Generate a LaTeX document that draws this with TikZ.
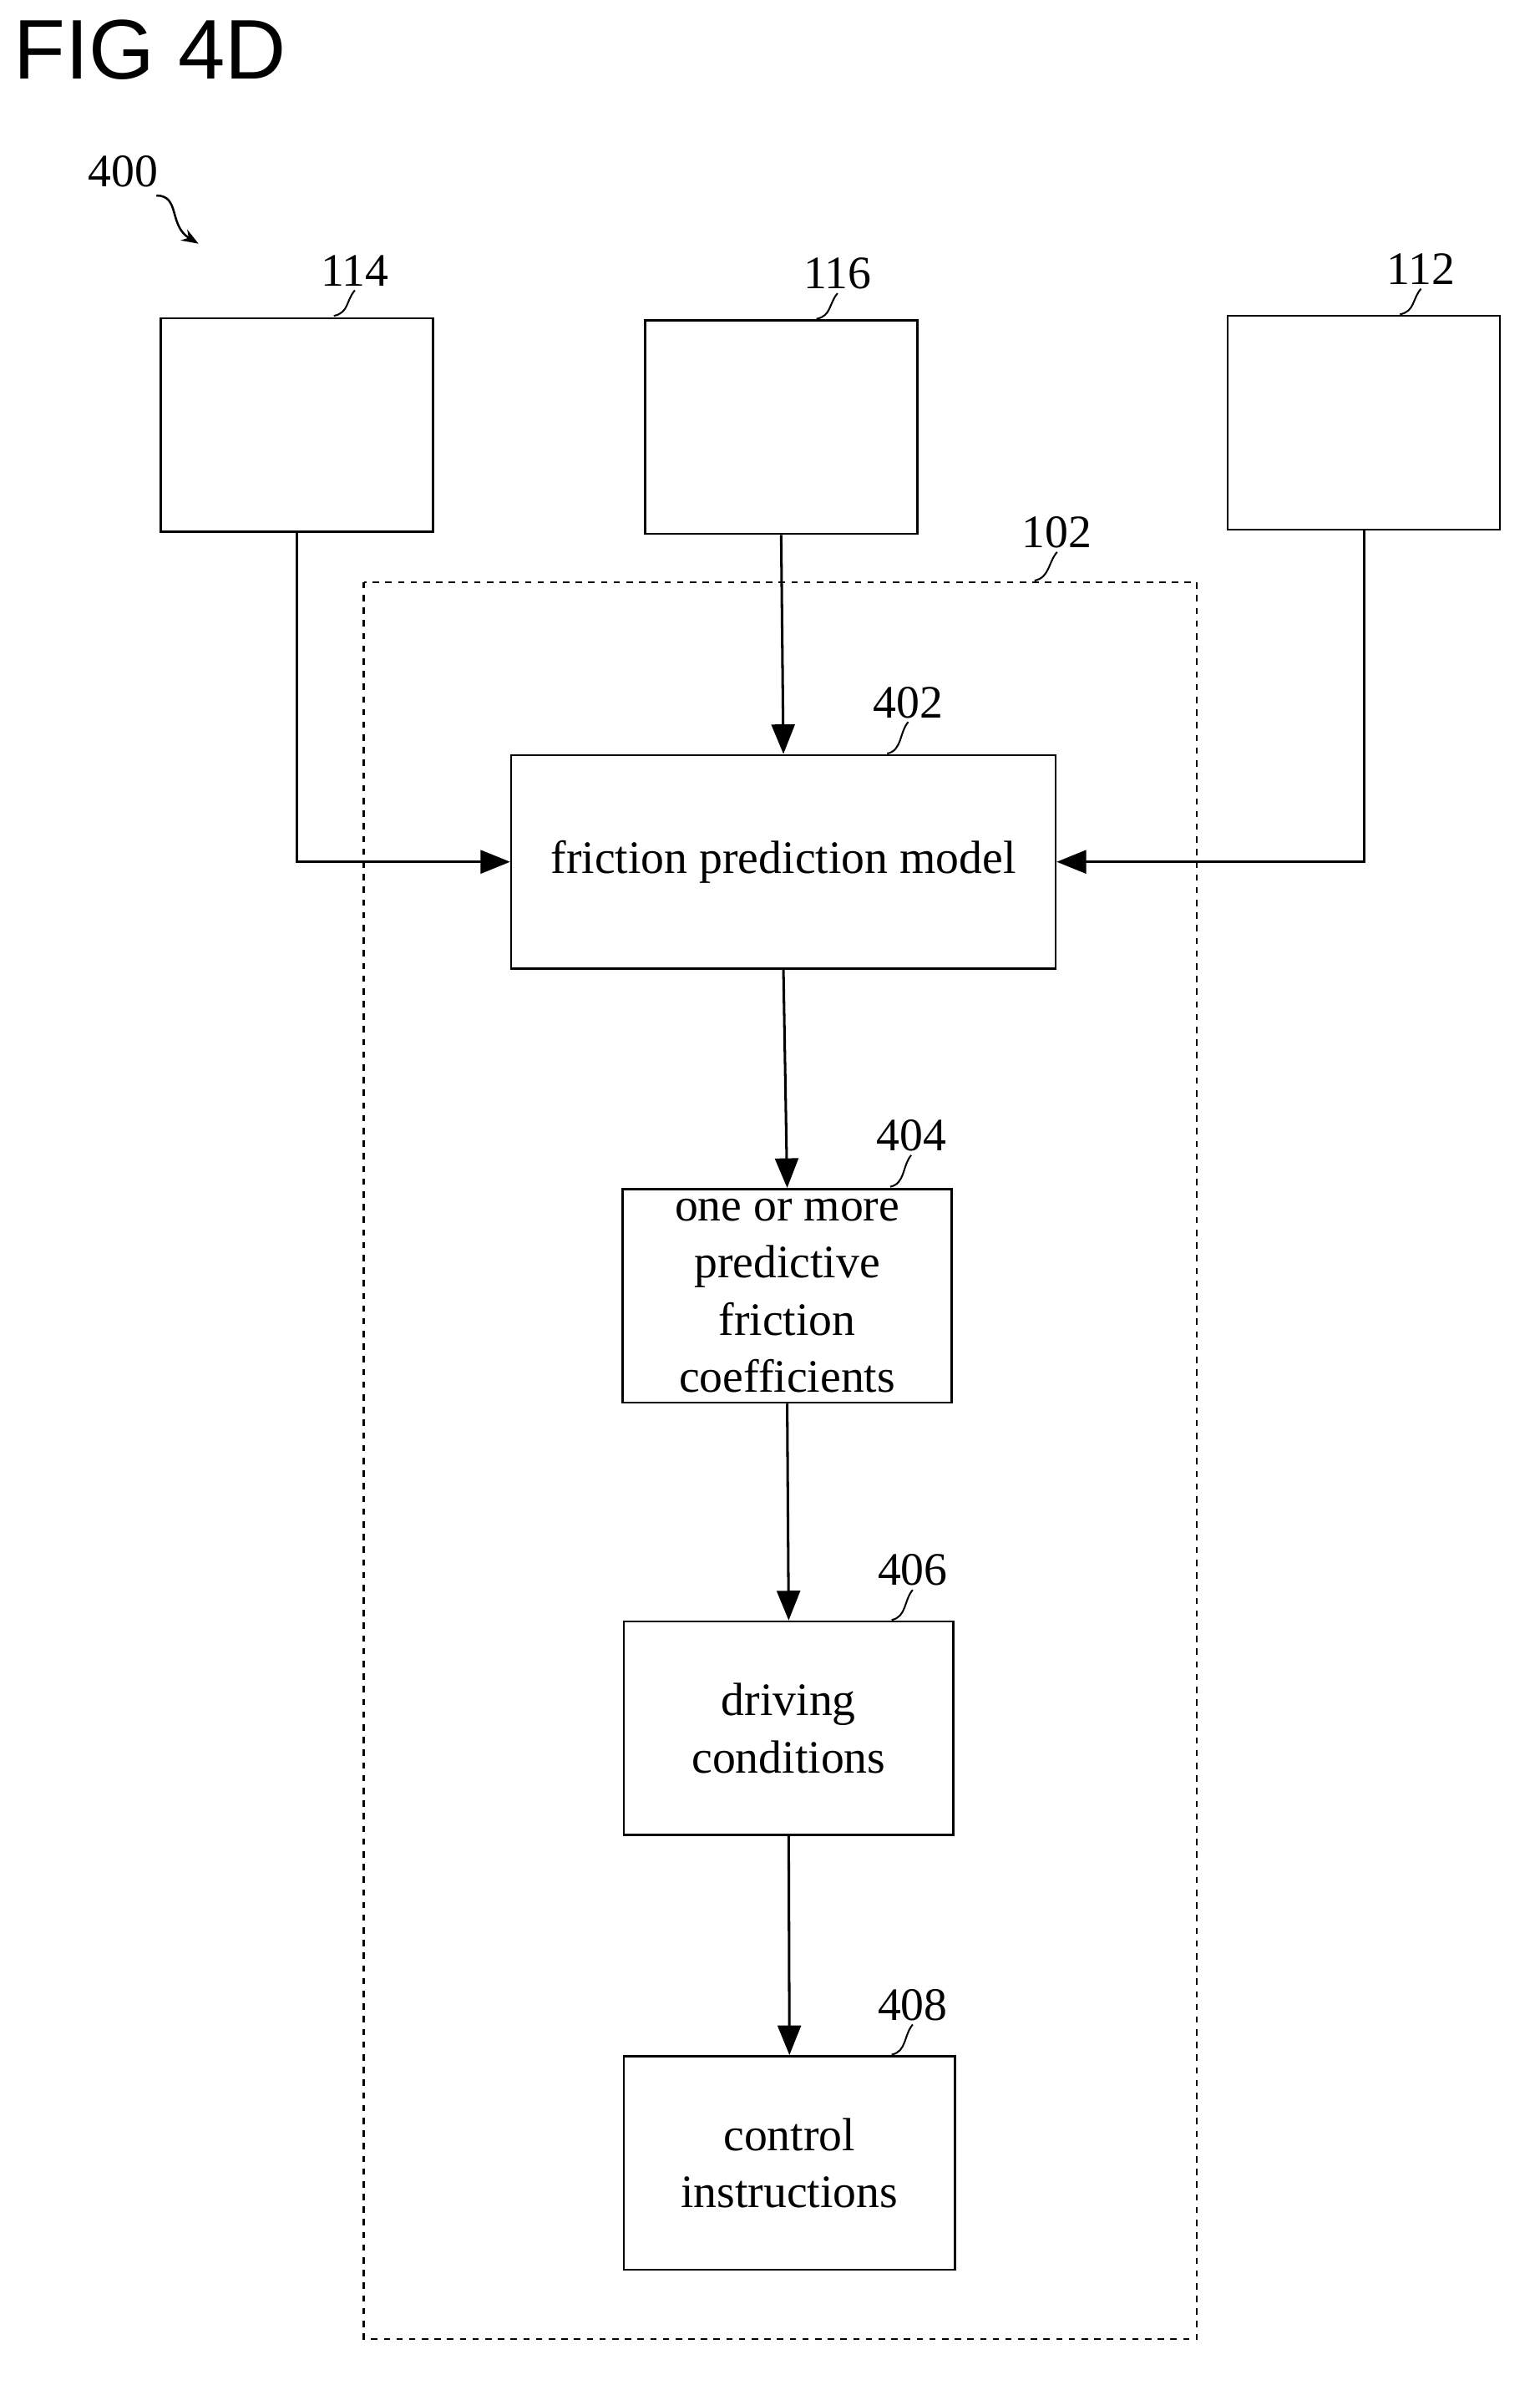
\documentclass[tikz,border=0pt]{standalone}
\usepackage{fontspec}
\setmainfont{Liberation Serif}
\setsansfont{Liberation Sans}
\usetikzlibrary{arrows.meta}
\begin{document}
\begin{tikzpicture}[x=0.025cm, y=-0.025cm, thick,
    blk/.style={draw, line width=1pt, minimum width=181*0.025cm, minimum height=142*0.025cm, inner sep=0pt},
    num/.style={font=\fontsize{22}{26}\selectfont},
    txt/.style={align=center, font=\fontsize{22}{27}\selectfont},
    arr/.style={-{Triangle[length=14pt,width=11pt]}, line width=1.2pt}]
  \useasboundingbox (0,0) rectangle (1024,1589);
  \node[anchor=west, font=\sffamily\fontsize{40}{44}\selectfont] (fig) at (4,33) {FIG 4D};
  % input blocks
  \node[blk] (b114) at (197.5,282.5) {};
  \node[blk] (b116) at (519.5,284) {};
  \node[blk] (b112) at (907,281) {};
  % processing unit
  \draw[dashed, line width=1pt] (242,387) rectangle (796,1555);
  \node[blk, minimum width=362*0.025cm, txt] (m402) at (521,573) {friction prediction model};
  \node[blk, minimum width=219*0.025cm, txt] (c404) at (523.5,861.5) {one or more\\predictive\\friction\\coefficients};
  \node[blk, minimum width=219*0.025cm, txt] (d406) at (524.5,1149) {driving\\conditions};
  \node[blk, minimum width=220*0.025cm, txt] (i408) at (525,1438) {control\\instructions};
  % reference numerals
  \node[num] (n400) at (82,114) {400};
  \draw[-{Stealth[length=8pt]}, line width=1pt] (104,130) .. controls (120,130) and (112,150) .. (132,162);
  \foreach \n/\x/\y/\bx/\by in {114/236/180/222/210, 116/557/182/543/212, 112/945/179/931/209,
      102/703/354/688/386, 402/604/467/590/501, 404/606/755/592/789, 406/607/1044/593/1077, 408/607/1333/593/1366}
    \node[num] (l\n) at (\x,\y) {\n};
  \foreach \n/\x/\y/\bx/\by in {114/236/180/222/210, 116/557/182/543/212, 112/945/179/931/209,
      102/703/354/688/386, 402/604/467/590/501, 404/606/755/592/789, 406/607/1044/593/1077, 408/607/1333/593/1366}
    \draw[line width=0.8pt] (\bx,\by) .. controls (\bx+10,\by-2) and (\x-6,\y+20) .. (\x,\y+13);
  % connectors
  \draw[arr] (b114.south) |- (m402.west);
  \draw[arr] (b116.south) -- (m402.north);
  \draw[arr] (b112.south) |- (m402.east);
  \draw[arr] (m402.south) -- (c404.north);
  \draw[arr] (c404.south) -- (d406.north);
  \draw[arr] (d406.south) -- (i408.north);
\end{tikzpicture}
\end{document}
